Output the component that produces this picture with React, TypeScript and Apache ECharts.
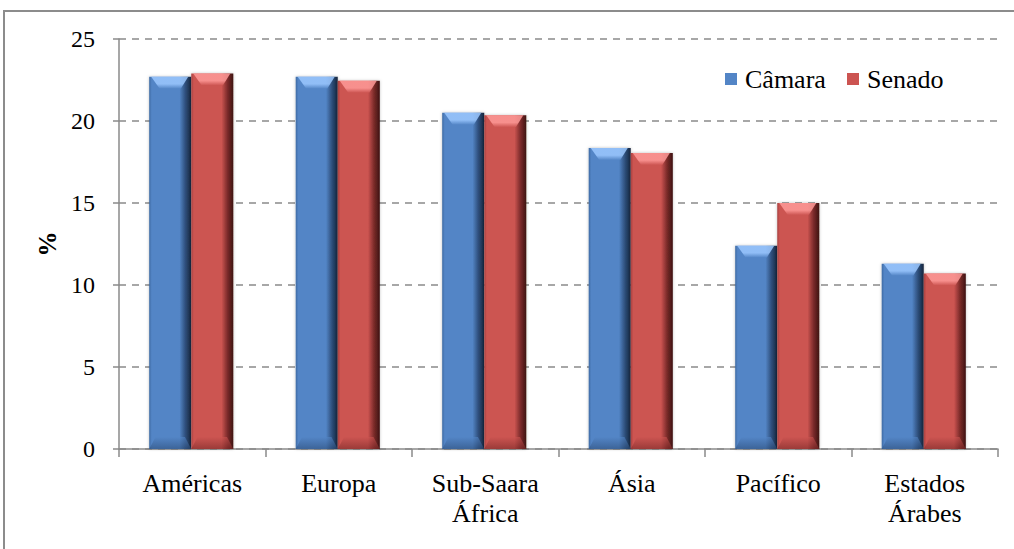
import React, { useEffect, useRef } from 'react';
import * as echarts from 'echarts';

const categories = ['Américas', 'Europa', 'Sub-Saara\nÁfrica', 'Ásia', 'Pacífico', 'Estados\nÁrabes'];
const camara = [22.7, 22.7, 20.5, 18.35, 12.4, 11.3];
const senado = [22.9, 22.45, 20.35, 18.05, 15.0, 10.7];
const seriesNames = ['Câmara', 'Senado'];
const yMin = 0;
const yMax = 25;
const yInterval = 5;

const FONT = 'serif';

type Pal = { main: string; edgeL: string; dark: string; darker: string; light: string; bottom: string };
const bluePal: Pal = { main: '#5385c6', edgeL: '#3e6aa3', dark: '#2e4f7c', darker: '#16263d', light: '#9cc8ff', bottom: '#2d4e7a' };
const redPal: Pal = { main: '#cc5451', edgeL: '#a8413f', dark: '#7c2b2a', darker: '#3d1312', light: '#ff9a98', bottom: '#7a2928' };

const makeRender = (side: number, pal: Pal) => (params: any, api: any) => {
  const idx = api.value(0);
  const v = api.value(1);
  const top = api.coord([idx, v]);
  const base = api.coord([idx, 0]);
  const band = api.size([1, 0])[0];
  const w = band * 0.287;
  const x = side === 0 ? top[0] - w - 1 : top[0] - 1;
  const y = top[1];
  const h = base[1] - top[1];
  const bev = Math.min(12, h / 3);
  const inset = w * 0.25;
  const bodyGrad = new echarts.graphic.LinearGradient(0, 0, 1, 0, [
    { offset: 0, color: pal.edgeL },
    { offset: 0.06, color: pal.main },
    { offset: 0.72, color: pal.main },
    { offset: 0.86, color: pal.dark },
    { offset: 1, color: pal.darker },
  ]);
  const topGrad = new echarts.graphic.LinearGradient(0, 0, 0, 1, [
    { offset: 0, color: pal.light },
    { offset: 0.6, color: pal.light },
    { offset: 1, color: pal.main },
  ]);
  const botGrad = new echarts.graphic.LinearGradient(0, 0, 0, 1, [
    { offset: 0, color: pal.main },
    { offset: 1, color: pal.bottom },
  ]);
  return {
    type: 'group',
    children: [
      {
        type: 'rect',
        shape: { x, y, width: w, height: h },
        style: { fill: bodyGrad, shadowBlur: 3, shadowColor: 'rgba(0,0,0,0.25)' },
      },
      {
        type: 'polygon',
        shape: { points: [[x + 2, y], [x + w - 3, y], [x + w - inset, y + bev], [x + inset, y + bev]] },
        style: { fill: topGrad, opacity: 0.85 },
      },
      {
        type: 'polygon',
        shape: {
          points: [
            [x + inset * 0.6, base[1] - bev],
            [x + w - inset * 0.6, base[1] - bev],
            [x + w, base[1]],
            [x, base[1]],
          ],
        },
        style: { fill: botGrad, opacity: 0.6 },
      },
    ],
  };
};

const legendText = { fontFamily: FONT, fontSize: 26, color: '#000', padding: [0, 0, 0, 3] };

export default function App() {
  const ref = useRef<HTMLDivElement>(null);
  useEffect(() => {
    if (!ref.current) return;
    const chart = echarts.init(ref.current, undefined, { renderer: 'svg' });
    const option: any = {
      animation: false,
      backgroundColor: '#ffffff',
      textStyle: { fontFamily: FONT },
      grid: { left: 119, right: 16, top: 39, bottom: 100, containLabel: false },
      legend: [
        {
          data: [seriesNames[0]],
          left: 725,
          top: 66,
          padding: 0,
          icon: 'rect',
          itemWidth: 12,
          itemHeight: 12,
          textStyle: legendText,
        },
        {
          data: [seriesNames[1]],
          left: 847,
          top: 66,
          padding: 0,
          icon: 'rect',
          itemWidth: 12,
          itemHeight: 12,
          textStyle: legendText,
        },
      ],
      xAxis: {
        type: 'category',
        data: categories,
        axisLine: { show: true, lineStyle: { color: '#8a8a8a', width: 1.5 } },
        axisTick: { show: true, length: 8, lineStyle: { color: '#8a8a8a', width: 1.5 } },
        axisLabel: { interval: 0, fontFamily: FONT, fontSize: 26, lineHeight: 30, color: '#000', margin: 19 },
        splitLine: { show: false },
      },
      yAxis: {
        type: 'value',
        min: yMin,
        max: yMax,
        interval: yInterval,
        name: '%',
        nameLocation: 'middle',
        nameRotate: 90,
        nameGap: 46,
        nameTextStyle: { fontFamily: FONT, fontSize: 25, fontWeight: 'bold', color: '#000' },
        axisLine: { show: true, lineStyle: { color: '#8a8a8a', width: 1.5 } },
        axisTick: { show: true, length: 6, lineStyle: { color: '#8a8a8a', width: 1.5 } },
        axisLabel: { fontFamily: FONT, fontSize: 24, color: '#000', margin: 24 },
        splitLine: { show: true, lineStyle: { color: '#8a8a8a', type: [7, 6], width: 1.5 } },
      },
      graphic: [
        {
          type: 'rect',
          silent: true,
          shape: { x: 4, y: 11, width: 1040, height: 580 },
          style: { fill: 'none', stroke: '#8c8c8c', lineWidth: 2 },
          z: 100,
        },
      ],
      series: [
        {
          name: seriesNames[0],
          type: 'custom',
          itemStyle: { color: bluePal.main },
          encode: { x: 0, y: 1 },
          data: camara.map((v, i) => [i, v]),
          renderItem: makeRender(0, bluePal),
        },
        {
          name: seriesNames[1],
          type: 'custom',
          itemStyle: { color: redPal.main },
          encode: { x: 0, y: 1 },
          data: senado.map((v, i) => [i, v]),
          renderItem: makeRender(1, redPal),
        },
      ],
    };
    chart.setOption(option);
    return () => chart.dispose();
  }, []);
  return (
    <>
      <style>{`.chart-root text, .chart-root tspan { font-family: "Liberation Serif", "Times New Roman", serif !important; }`}</style>
      <div
        ref={ref}
        className="chart-root"
        style={{ position: 'fixed', left: 0, top: 0, width: 1014, height: 549, background: '#fff' }}
      />
    </>
  );
}
